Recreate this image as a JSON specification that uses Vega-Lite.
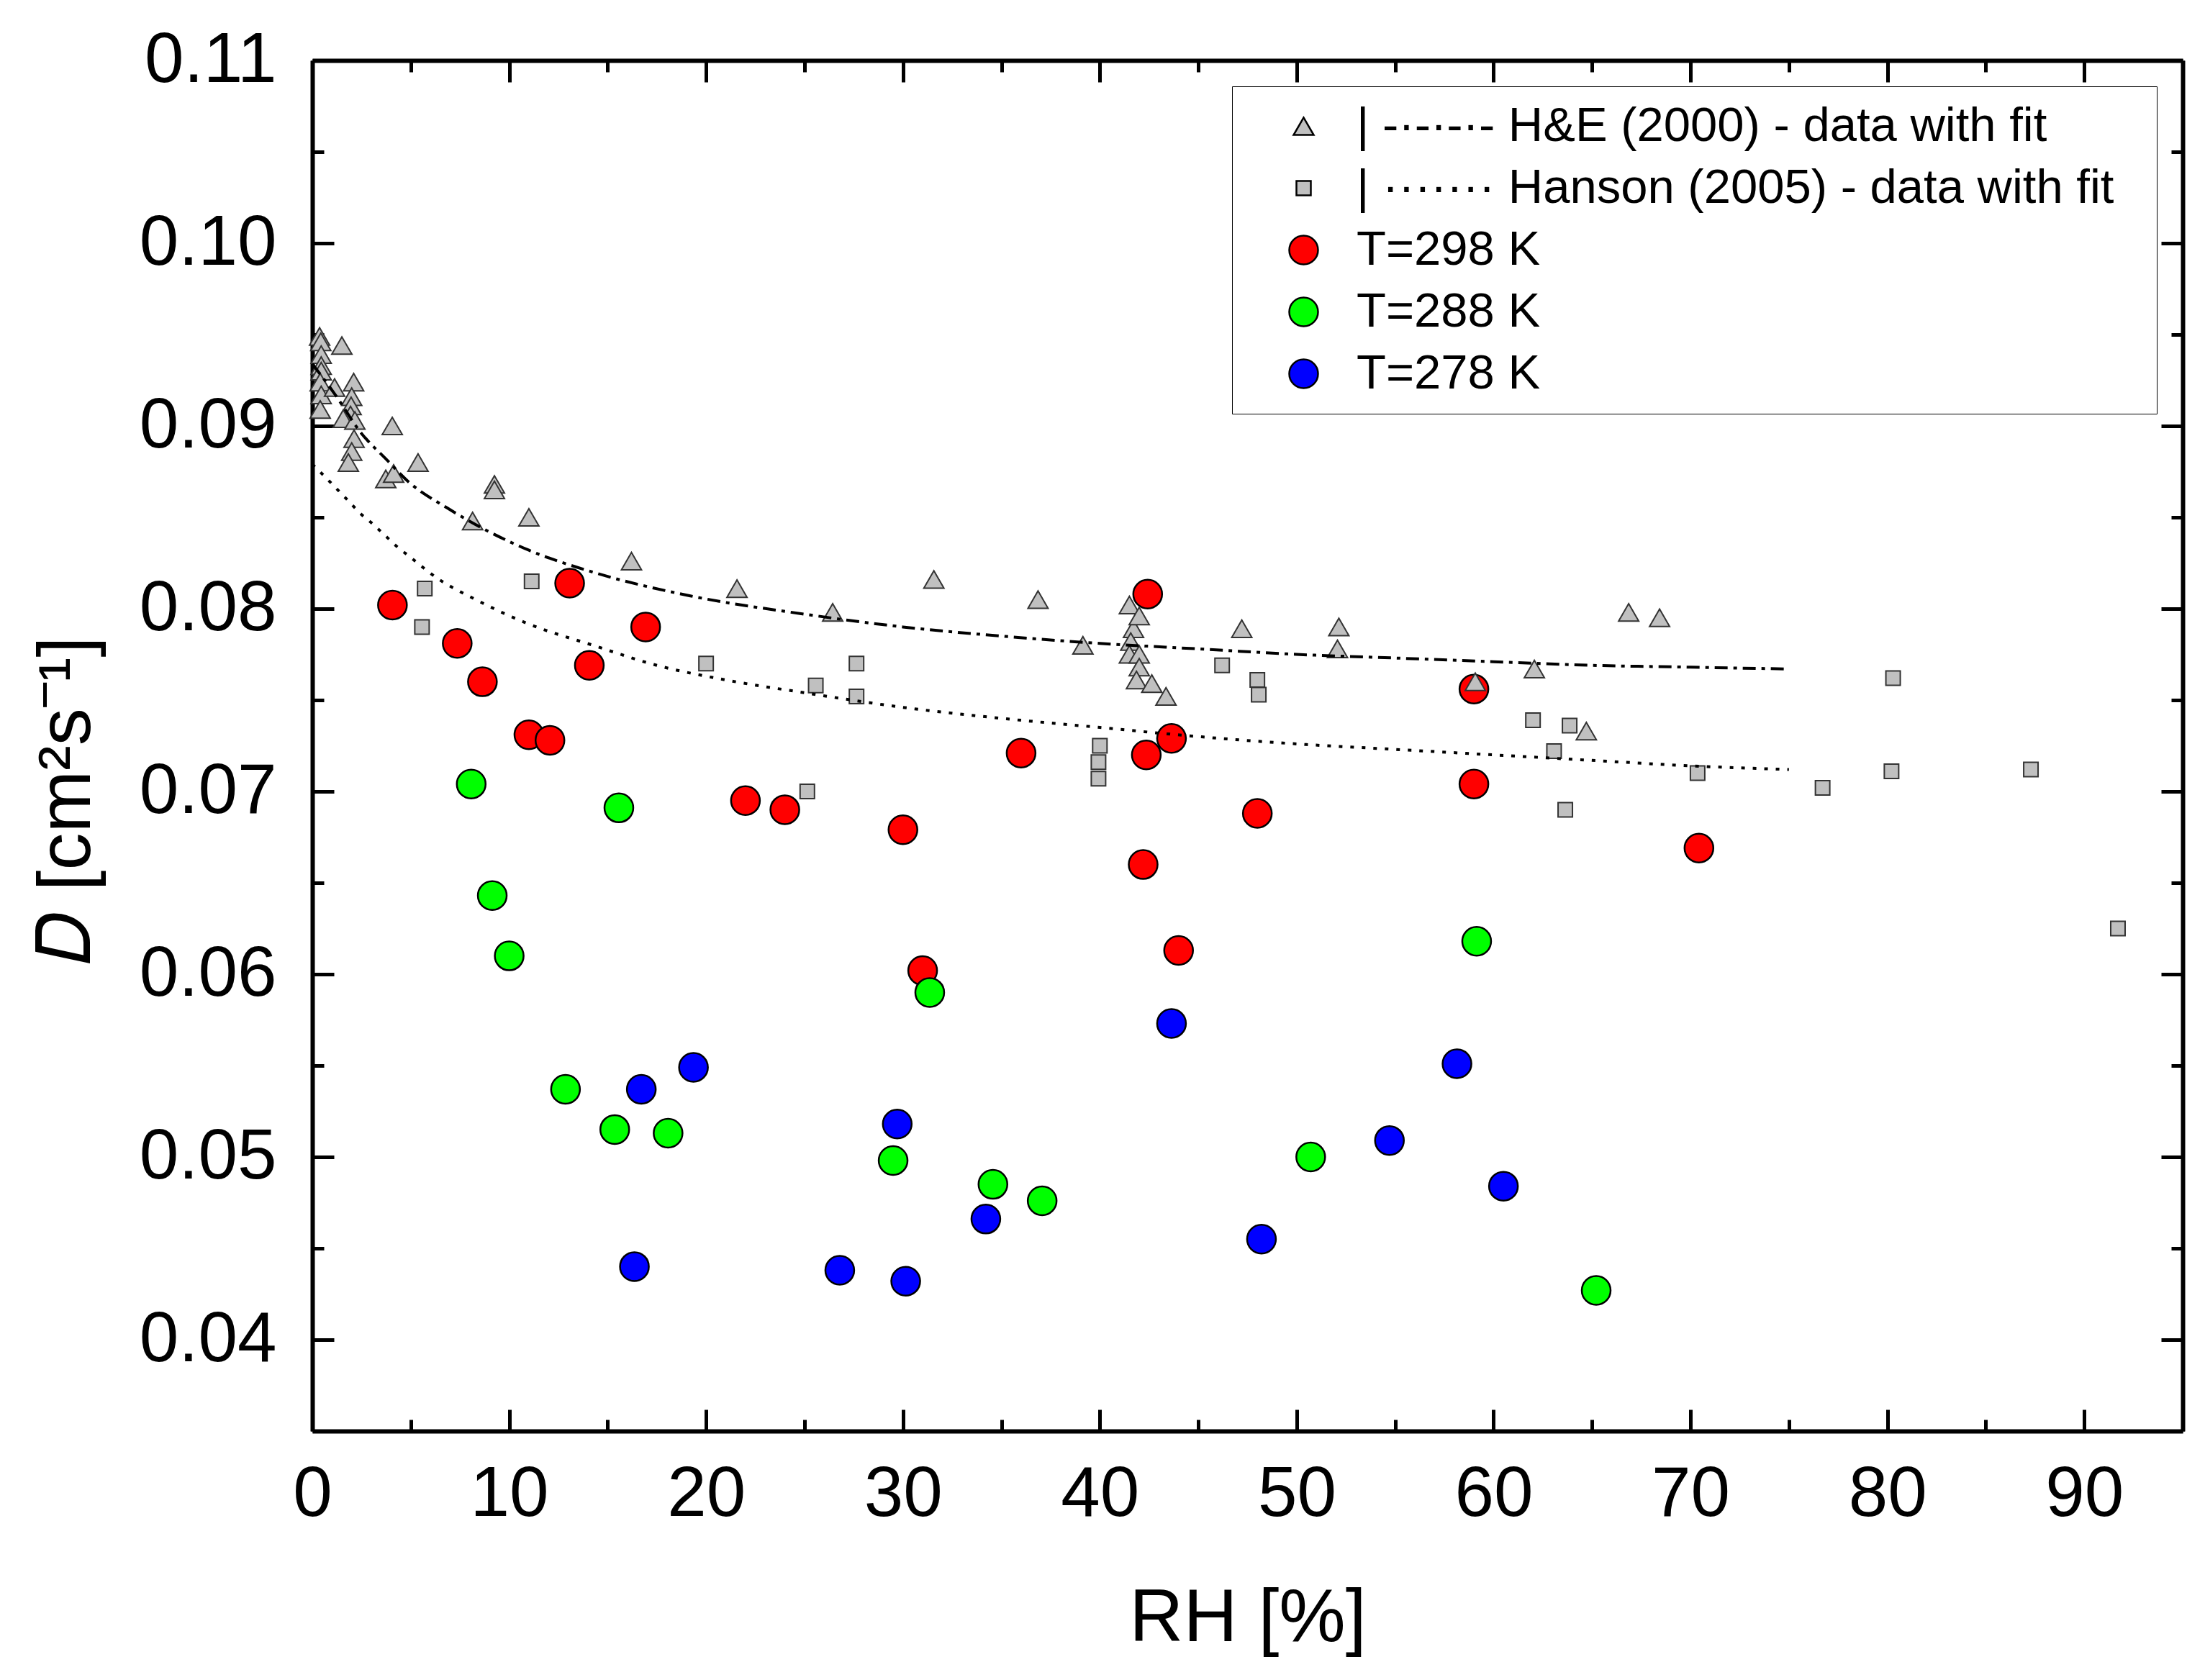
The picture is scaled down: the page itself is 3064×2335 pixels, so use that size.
{
  "$schema": "https://vega.github.io/schema/vega-lite/v6.json",
  "width": 2599,
  "height": 1905,
  "autosize": "none",
  "padding": {"left": 434, "top": 84, "right": 31, "bottom": 346},
  "background": "white",
  "config": {
    "view": {"stroke": null},
    "font": "Liberation Sans",
    "axis": {
      "grid": false,
      "domainColor": "black",
      "domainWidth": 6,
      "tickColor": "black",
      "tickWidth": 5,
      "labelColor": "black",
      "titleColor": "black",
      "labelFont": "Liberation Sans",
      "titleFont": "Liberation Sans",
      "labelFontSize": 98,
      "titleFontSize": 104,
      "titleFontWeight": "normal",
      "labelLimit": 0,
      "labelFlush": false,
      "labelOverlap": false
    },
    "legend": {
      "labelFont": "Liberation Sans",
      "labelFontSize": 67,
      "labelColor": "black",
      "labelLimit": 0
    }
  },
  "datasets": {
    "points": [
      {"series": "T=298 K", "RH": 4.07, "D": 0.0802},
      {"series": "T=298 K", "RH": 7.36, "D": 0.0781},
      {"series": "T=298 K", "RH": 8.64, "D": 0.0760},
      {"series": "T=298 K", "RH": 13.07, "D": 0.0814},
      {"series": "T=298 K", "RH": 14.07, "D": 0.0769},
      {"series": "T=298 K", "RH": 16.93, "D": 0.0790},
      {"series": "T=298 K", "RH": 11.0, "D": 0.0731},
      {"series": "T=298 K", "RH": 12.07, "D": 0.0728},
      {"series": "T=298 K", "RH": 22.0, "D": 0.0695},
      {"series": "T=298 K", "RH": 24.0, "D": 0.0690},
      {"series": "T=298 K", "RH": 30.0, "D": 0.0679},
      {"series": "T=298 K", "RH": 31.0, "D": 0.0602},
      {"series": "T=298 K", "RH": 36.0, "D": 0.0721},
      {"series": "T=298 K", "RH": 42.43, "D": 0.0808},
      {"series": "T=298 K", "RH": 42.36, "D": 0.0720},
      {"series": "T=298 K", "RH": 43.64, "D": 0.0729},
      {"series": "T=298 K", "RH": 42.2, "D": 0.0660},
      {"series": "T=298 K", "RH": 44.0, "D": 0.0613},
      {"series": "T=298 K", "RH": 48.0, "D": 0.0688},
      {"series": "T=298 K", "RH": 59.0, "D": 0.0756},
      {"series": "T=298 K", "RH": 59.0, "D": 0.0704},
      {"series": "T=298 K", "RH": 70.43, "D": 0.0669},
      {"series": "T=288 K", "RH": 8.07, "D": 0.0704},
      {"series": "T=288 K", "RH": 15.57, "D": 0.0691},
      {"series": "T=288 K", "RH": 9.14, "D": 0.0643},
      {"series": "T=288 K", "RH": 10.0, "D": 0.0610},
      {"series": "T=288 K", "RH": 12.86, "D": 0.0537},
      {"series": "T=288 K", "RH": 15.36, "D": 0.0515},
      {"series": "T=288 K", "RH": 18.07, "D": 0.0513},
      {"series": "T=288 K", "RH": 31.36, "D": 0.0590},
      {"series": "T=288 K", "RH": 29.5, "D": 0.0498},
      {"series": "T=288 K", "RH": 34.57, "D": 0.0485},
      {"series": "T=288 K", "RH": 37.07, "D": 0.0476},
      {"series": "T=288 K", "RH": 50.71, "D": 0.0500},
      {"series": "T=288 K", "RH": 59.14, "D": 0.0618},
      {"series": "T=288 K", "RH": 65.21, "D": 0.0427},
      {"series": "T=278 K", "RH": 16.71, "D": 0.0537},
      {"series": "T=278 K", "RH": 19.36, "D": 0.0549},
      {"series": "T=278 K", "RH": 16.36, "D": 0.0440},
      {"series": "T=278 K", "RH": 29.71, "D": 0.0518},
      {"series": "T=278 K", "RH": 26.79, "D": 0.0438},
      {"series": "T=278 K", "RH": 30.14, "D": 0.0432},
      {"series": "T=278 K", "RH": 34.21, "D": 0.0466},
      {"series": "T=278 K", "RH": 43.64, "D": 0.0573},
      {"series": "T=278 K", "RH": 48.21, "D": 0.0455},
      {"series": "T=278 K", "RH": 54.71, "D": 0.0509},
      {"series": "T=278 K", "RH": 58.14, "D": 0.0551},
      {"series": "T=278 K", "RH": 60.5, "D": 0.0484},
      {"series": "H&E (2000)", "RH": 0.37, "D": 0.0949},
      {"series": "H&E (2000)", "RH": 0.43, "D": 0.0946},
      {"series": "H&E (2000)", "RH": 0.45, "D": 0.0939},
      {"series": "H&E (2000)", "RH": 0.45, "D": 0.0933},
      {"series": "H&E (2000)", "RH": 0.45, "D": 0.0930},
      {"series": "H&E (2000)", "RH": 0.4, "D": 0.0924},
      {"series": "H&E (2000)", "RH": 0.45, "D": 0.0917},
      {"series": "H&E (2000)", "RH": 0.4, "D": 0.0909},
      {"series": "H&E (2000)", "RH": 1.5, "D": 0.0944},
      {"series": "H&E (2000)", "RH": 1.13, "D": 0.0921},
      {"series": "H&E (2000)", "RH": 2.1, "D": 0.0924},
      {"series": "H&E (2000)", "RH": 2.0, "D": 0.0916},
      {"series": "H&E (2000)", "RH": 1.97, "D": 0.0911},
      {"series": "H&E (2000)", "RH": 1.94, "D": 0.0906},
      {"series": "H&E (2000)", "RH": 1.57, "D": 0.0904},
      {"series": "H&E (2000)", "RH": 2.16, "D": 0.0903},
      {"series": "H&E (2000)", "RH": 2.12, "D": 0.0893},
      {"series": "H&E (2000)", "RH": 2.0, "D": 0.0886},
      {"series": "H&E (2000)", "RH": 1.83, "D": 0.0880},
      {"series": "H&E (2000)", "RH": 4.06, "D": 0.0900},
      {"series": "H&E (2000)", "RH": 3.73, "D": 0.0871},
      {"series": "H&E (2000)", "RH": 4.13, "D": 0.0874},
      {"series": "H&E (2000)", "RH": 5.37, "D": 0.0880},
      {"series": "H&E (2000)", "RH": 8.14, "D": 0.0848},
      {"series": "H&E (2000)", "RH": 9.25, "D": 0.0868},
      {"series": "H&E (2000)", "RH": 9.25, "D": 0.0865},
      {"series": "H&E (2000)", "RH": 11.0, "D": 0.0850},
      {"series": "H&E (2000)", "RH": 16.21, "D": 0.0826},
      {"series": "H&E (2000)", "RH": 21.57, "D": 0.0811},
      {"series": "H&E (2000)", "RH": 26.43, "D": 0.0798},
      {"series": "H&E (2000)", "RH": 31.57, "D": 0.0816},
      {"series": "H&E (2000)", "RH": 36.86, "D": 0.0805},
      {"series": "H&E (2000)", "RH": 39.14, "D": 0.0780},
      {"series": "H&E (2000)", "RH": 41.5, "D": 0.0802},
      {"series": "H&E (2000)", "RH": 41.71, "D": 0.0789},
      {"series": "H&E (2000)", "RH": 41.57, "D": 0.0782},
      {"series": "H&E (2000)", "RH": 42.0, "D": 0.0796},
      {"series": "H&E (2000)", "RH": 41.5, "D": 0.0775},
      {"series": "H&E (2000)", "RH": 42.0, "D": 0.0775},
      {"series": "H&E (2000)", "RH": 42.0, "D": 0.0768},
      {"series": "H&E (2000)", "RH": 41.86, "D": 0.0761},
      {"series": "H&E (2000)", "RH": 42.64, "D": 0.0759},
      {"series": "H&E (2000)", "RH": 43.36, "D": 0.0752},
      {"series": "H&E (2000)", "RH": 47.21, "D": 0.0789},
      {"series": "H&E (2000)", "RH": 52.14, "D": 0.0790},
      {"series": "H&E (2000)", "RH": 52.07, "D": 0.0778},
      {"series": "H&E (2000)", "RH": 59.07, "D": 0.0760},
      {"series": "H&E (2000)", "RH": 62.07, "D": 0.0767},
      {"series": "H&E (2000)", "RH": 64.71, "D": 0.0733},
      {"series": "H&E (2000)", "RH": 66.86, "D": 0.0798},
      {"series": "H&E (2000)", "RH": 68.43, "D": 0.0795},
      {"series": "Hanson (2005)", "RH": 5.71, "D": 0.0811},
      {"series": "Hanson (2005)", "RH": 5.57, "D": 0.0790},
      {"series": "Hanson (2005)", "RH": 11.14, "D": 0.0815},
      {"series": "Hanson (2005)", "RH": 20.0, "D": 0.0770},
      {"series": "Hanson (2005)", "RH": 25.57, "D": 0.0758},
      {"series": "Hanson (2005)", "RH": 27.64, "D": 0.0770},
      {"series": "Hanson (2005)", "RH": 27.64, "D": 0.0752},
      {"series": "Hanson (2005)", "RH": 25.14, "D": 0.0700},
      {"series": "Hanson (2005)", "RH": 40.0, "D": 0.0725},
      {"series": "Hanson (2005)", "RH": 39.93, "D": 0.0716},
      {"series": "Hanson (2005)", "RH": 39.93, "D": 0.0707},
      {"series": "Hanson (2005)", "RH": 46.21, "D": 0.0769},
      {"series": "Hanson (2005)", "RH": 48.0, "D": 0.0761},
      {"series": "Hanson (2005)", "RH": 48.07, "D": 0.0753},
      {"series": "Hanson (2005)", "RH": 62.0, "D": 0.0739},
      {"series": "Hanson (2005)", "RH": 63.86, "D": 0.0736},
      {"series": "Hanson (2005)", "RH": 63.07, "D": 0.0722},
      {"series": "Hanson (2005)", "RH": 63.64, "D": 0.0690},
      {"series": "Hanson (2005)", "RH": 70.36, "D": 0.0710},
      {"series": "Hanson (2005)", "RH": 76.71, "D": 0.0702},
      {"series": "Hanson (2005)", "RH": 80.29, "D": 0.0762},
      {"series": "Hanson (2005)", "RH": 80.21, "D": 0.0711},
      {"series": "Hanson (2005)", "RH": 87.29, "D": 0.0712},
      {"series": "Hanson (2005)", "RH": 91.71, "D": 0.0625}
    ],
    "fits": [
      {"fit": "H&E", "RH": 0, "D": 0.0934},
      {"fit": "H&E", "RH": 1.17, "D": 0.0917},
      {"fit": "H&E", "RH": 2.49, "D": 0.0896},
      {"fit": "H&E", "RH": 3.73, "D": 0.0882},
      {"fit": "H&E", "RH": 4.93, "D": 0.0869},
      {"fit": "H&E", "RH": 6.87, "D": 0.0855},
      {"fit": "H&E", "RH": 9, "D": 0.0842},
      {"fit": "H&E", "RH": 11, "D": 0.0832},
      {"fit": "H&E", "RH": 14.25, "D": 0.0820},
      {"fit": "H&E", "RH": 19.2, "D": 0.0807},
      {"fit": "H&E", "RH": 25, "D": 0.0797},
      {"fit": "H&E", "RH": 30, "D": 0.0790},
      {"fit": "H&E", "RH": 35, "D": 0.0785},
      {"fit": "H&E", "RH": 40, "D": 0.0781},
      {"fit": "H&E", "RH": 45, "D": 0.0778},
      {"fit": "H&E", "RH": 50, "D": 0.0775},
      {"fit": "H&E", "RH": 55, "D": 0.0773},
      {"fit": "H&E", "RH": 60, "D": 0.0771},
      {"fit": "H&E", "RH": 65, "D": 0.0769},
      {"fit": "H&E", "RH": 70, "D": 0.0768},
      {"fit": "H&E", "RH": 75, "D": 0.0767},
      {"fit": "Hanson", "RH": 0, "D": 0.0879},
      {"fit": "Hanson", "RH": 0.66, "D": 0.0872},
      {"fit": "Hanson", "RH": 1.2, "D": 0.0866},
      {"fit": "Hanson", "RH": 1.83, "D": 0.0859},
      {"fit": "Hanson", "RH": 2.45, "D": 0.0852},
      {"fit": "Hanson", "RH": 3.0, "D": 0.0847},
      {"fit": "Hanson", "RH": 3.7, "D": 0.0840},
      {"fit": "Hanson", "RH": 4.3, "D": 0.0834},
      {"fit": "Hanson", "RH": 5.0, "D": 0.0828},
      {"fit": "Hanson", "RH": 6.3, "D": 0.0817},
      {"fit": "Hanson", "RH": 8.3, "D": 0.0805},
      {"fit": "Hanson", "RH": 10.9, "D": 0.0792},
      {"fit": "Hanson", "RH": 14.25, "D": 0.0780},
      {"fit": "Hanson", "RH": 17.5, "D": 0.0769},
      {"fit": "Hanson", "RH": 21, "D": 0.0761},
      {"fit": "Hanson", "RH": 25, "D": 0.0754},
      {"fit": "Hanson", "RH": 30, "D": 0.0746},
      {"fit": "Hanson", "RH": 35, "D": 0.0740},
      {"fit": "Hanson", "RH": 40, "D": 0.0735},
      {"fit": "Hanson", "RH": 45, "D": 0.0730},
      {"fit": "Hanson", "RH": 50, "D": 0.0726},
      {"fit": "Hanson", "RH": 55, "D": 0.0723},
      {"fit": "Hanson", "RH": 60, "D": 0.0720},
      {"fit": "Hanson", "RH": 65, "D": 0.0717},
      {"fit": "Hanson", "RH": 70, "D": 0.0714},
      {"fit": "Hanson", "RH": 75, "D": 0.0712}
    ]
  },
  "resolve": {"axis": {"x": "independent", "y": "independent"}},
  "layer": [
    {
      "data": {"name": "points"},
      "transform": [{"filter": "indexof(datum.series, 'T=') === 0"}],
      "mark": {"type": "point", "filled": true, "stroke": "black", "strokeWidth": 2.5, "opacity": 1},
      "encoding": {
        "x": {
          "field": "RH", "type": "quantitative",
          "scale": {"domain": [0, 95], "nice": false, "zero": false},
          "axis": {
            "orient": "bottom",
            "title": "RH [%]",
            "values": [0, 5, 10, 15, 20, 25, 30, 35, 40, 45, 50, 55, 60, 65, 70, 75, 80, 85, 90, 95],
            "labelExpr": "datum.value % 10 === 0 ? datum.label : ''",
            "tickSize": {"condition": {"test": "datum.value % 10 === 0", "value": -30}, "value": -16},
            "labelPadding": 70,
            "titlePadding": 58
          }
        },
        "y": {
          "field": "D", "type": "quantitative",
          "scale": {"domain": [0.035, 0.11], "nice": false, "zero": false},
          "axis": {
            "orient": "left",
            "title": "𝐷 [cm²s⁻¹]",
            "titleY": 1028,
            "values": [0.035, 0.04, 0.045, 0.05, 0.055, 0.06, 0.065, 0.07, 0.075, 0.08, 0.085, 0.09, 0.095, 0.1, 0.105, 0.11],
            "labelExpr": "abs(datum.value * 100 - round(datum.value * 100)) < 0.001 ? format(datum.value, '.2f') : ''",
            "tickSize": {"condition": {"test": "abs(datum.value * 100 - round(datum.value * 100)) < 0.001", "value": -30}, "value": -16},
            "labelPadding": 80,
            "titlePadding": 88
          }
        },
        "fill": {
          "field": "series", "type": "nominal",
          "scale": {
            "domain": ["H&E (2000)", "Hanson (2005)", "T=298 K", "T=288 K", "T=278 K"],
            "range": ["#c0c0c0", "#c0c0c0", "#ff0000", "#00ff00", "#0000ff"]
          },
          "legend": {
            "title": null,
            "orient": "top-right",
            "offset": 36,
            "strokeColor": "black",
            "fillColor": "white",
            "padding": 22,
            "rowPadding": 18,
            "symbolOffset": 44,
            "labelOffset": 40,
            "symbolStrokeColor": "black",
            "symbolStrokeWidth": 2.5,
            "labelExpr": "datum.label === 'H&E (2000)' ? '|  -·-·-·-  H&E (2000) - data with fit' : datum.label === 'Hanson (2005)' ? '|  ·······  Hanson (2005) - data with fit' : datum.label",
            "encode": {"legend": {"update": {"strokeWidth": {"value": 3}}}}
          }
        },
        "shape": {
          "field": "series", "type": "nominal",
          "scale": {
            "domain": ["H&E (2000)", "Hanson (2005)", "T=298 K", "T=288 K", "T=278 K"],
            "range": ["triangle-up", "square", "circle", "circle", "circle"]
          }
        },
        "size": {
          "field": "series", "type": "ordinal",
          "scale": {
            "type": "ordinal",
            "domain": ["H&E (2000)", "Hanson (2005)", "T=298 K", "T=288 K", "T=278 K"],
            "range": [780, 400, 1600, 1600, 1600]
          }
        }
      }
    },
    {
      "data": {"name": "points"},
      "transform": [{"filter": "indexof(datum.series, 'T=') !== 0"}],
      "mark": {"type": "point", "filled": true, "stroke": "#333333", "strokeWidth": 2, "opacity": 1},
      "encoding": {
        "x": {"field": "RH", "type": "quantitative", "axis": null},
        "y": {"field": "D", "type": "quantitative", "axis": null},
        "fill": {
          "field": "series", "type": "nominal",
          "scale": {
            "domain": ["H&E (2000)", "Hanson (2005)", "T=298 K", "T=288 K", "T=278 K"],
            "range": ["#c0c0c0", "#c0c0c0", "#ff0000", "#00ff00", "#0000ff"]
          }
        },
        "shape": {
          "field": "series", "type": "nominal",
          "scale": {
            "domain": ["H&E (2000)", "Hanson (2005)", "T=298 K", "T=288 K", "T=278 K"],
            "range": ["triangle-up", "square", "circle", "circle", "circle"]
          }
        },
        "size": {
          "field": "series", "type": "ordinal",
          "scale": {
            "type": "ordinal",
            "domain": ["H&E (2000)", "Hanson (2005)", "T=298 K", "T=288 K", "T=278 K"],
            "range": [780, 400, 1600, 1600, 1600]
          }
        }
      }
    },
    {
      "data": {"name": "fits"},
      "transform": [{"filter": "datum.fit === 'H&E'"}],
      "mark": {"type": "line", "color": "black", "strokeWidth": 4, "strokeDash": [18, 8, 5, 8], "interpolate": "monotone"},
      "encoding": {
        "x": {
          "field": "RH", "type": "quantitative",
          "axis": {
            "orient": "top", "title": null, "labels": false,
            "values": [0, 5, 10, 15, 20, 25, 30, 35, 40, 45, 50, 55, 60, 65, 70, 75, 80, 85, 90, 95],
            "tickSize": {"condition": {"test": "datum.value % 10 === 0", "value": -30}, "value": -16}
          }
        },
        "y": {
          "field": "D", "type": "quantitative",
          "axis": {
            "orient": "right", "title": null, "labels": false,
            "values": [0.035, 0.04, 0.045, 0.05, 0.055, 0.06, 0.065, 0.07, 0.075, 0.08, 0.085, 0.09, 0.095, 0.1, 0.105, 0.11],
            "tickSize": {"condition": {"test": "abs(datum.value * 100 - round(datum.value * 100)) < 0.001", "value": -30}, "value": -16}
          }
        }
      }
    },
    {
      "data": {"name": "fits"},
      "transform": [{"filter": "datum.fit === 'Hanson'"}],
      "mark": {"type": "line", "color": "black", "strokeWidth": 4, "strokeDash": [5, 11], "interpolate": "monotone"},
      "encoding": {
        "x": {"field": "RH", "type": "quantitative", "axis": null},
        "y": {"field": "D", "type": "quantitative", "axis": null}
      }
    }
  ]
}
